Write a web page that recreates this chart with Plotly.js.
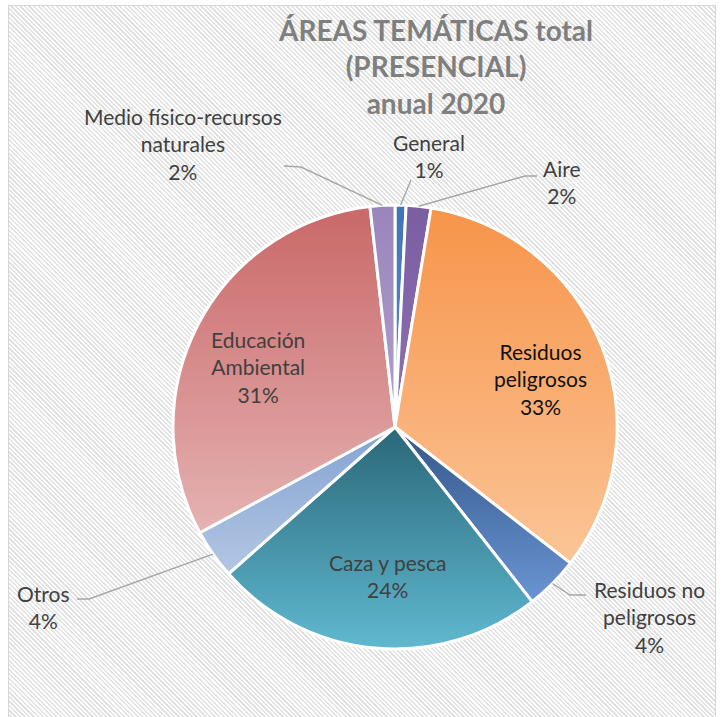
<!DOCTYPE html>
<html>
<head>
<meta charset="utf-8">
<script src="https://cdn.plot.ly/plotly-3.0.1.min.js"></script>
<style>
  html, body { margin: 0; padding: 0; width: 723px; height: 717px; overflow: hidden; background: #ffffff; }
  #frame {
    position: absolute; left: 8px; top: 5px; width: 706px; height: 730px;
    border: 1.5px solid #d6d6d6;
    background: repeating-linear-gradient(45deg, #ffffff 0px, #ffffff 1.6px, #e2e2e2 1.6px, #e2e2e2 3.2px);
  }
  #chart { position: absolute; left: 0; top: 0; width: 723px; height: 717px; }
</style>
</head>
<body>
<div id="frame"></div>
<div id="chart"></div>
<script>
// ---- data ----
const categories = ['General', 'Aire', 'Residuos peligrosos', 'Residuos no peligrosos',
                    'Caza y pesca', 'Otros', 'Educación Ambiental', 'Medio físico-recursos naturales'];
const labelLines = ['General', 'Aire', 'Residuos<br>peligrosos', 'Residuos no<br>peligrosos',
                    'Caza y pesca', 'Otros', 'Educación<br>Ambiental', 'Medio físico-recursos<br>naturales'];
const values = [0.8, 1.8, 32.9, 3.9, 24.1, 3.6, 31.1, 1.8];
const titleText = 'ÁREAS TEMÁTICAS total<br>(PRESENCIAL)<br>anual 2020';

// ---- styles / layout positions ----
const W = 723, H = 717;
const CX = 395, CY = 427, R = 222;
const FONT = 'Lato, "Open Sans", sans-serif';
const midColors = ['#4a7ebf', '#8064a6', '#f9ac70', '#4e78b0', '#4490a8', '#99b3da', '#d78b8b', '#a492c3'];
const gradTop =   ['#3f74b8', '#7b5da2', '#f7944a', '#34578a', '#2a6779', '#84a2d2', '#c96868', '#9a85bb'];
const gradBot =   ['#5b8fd0', '#8e72b2', '#fbc597', '#6a95d3', '#60b9d0', '#b3c7e3', '#e6b2b2', '#b0a0cc'];
const textColors = ['#404040', '#404040', '#111111', '#404040', '#404040', '#404040', '#404040', '#404040'];
// label block centres (px)
const labelPos = [[429, 156], [562, 182], [540, 379], [649, 617], [387, 576], [43, 607], [258, 367], [183, 144]];
// leader line waypoints (px) after the slice-edge anchor
const leaders = {0: [[411, 180]], 1: [[525, 176], [537, 176]], 3: [[570, 595], [586, 595]],
                 5: [[89, 599], [77, 599]], 7: [[301, 167], [284, 166]]};

const px = x => x / W;
const py = y => 1 - y / H;
const total = values.reduce((a, b) => a + b, 0);

// annotations from data
const annotations = categories.map((c, i) => ({
  x: px(labelPos[i][0]), y: py(labelPos[i][1]), xref: 'paper', yref: 'paper',
  xanchor: 'center', yanchor: 'middle', align: 'center', showarrow: false,
  text: labelLines[i] + '<br>' + Math.round(values[i] / total * 100) + '%',
  font: {family: FONT, size: 21, color: textColors[i]}
}));

// leader lines: start at slice edge computed from the data
let cum = 0;
const mids = values.map(v => { const m = (cum + v / 2) / total * 2 * Math.PI; cum += v; return m; });
const shapes = Object.keys(leaders).map(k => {
  const i = +k;
  const ex = CX + R * Math.sin(mids[i]);
  const ey = CY - R * Math.cos(mids[i]);
  const pts = [[ex, ey]].concat(leaders[k]);
  const path = pts.map((p, j) => (j ? 'L' : 'M') + px(p[0]).toFixed(5) + ',' + py(p[1]).toFixed(5)).join(' ');
  return {type: 'path', xref: 'paper', yref: 'paper', path: path,
          line: {color: '#a6a6a6', width: 1.4}};
});

const trace = {
  type: 'pie',
  labels: categories,
  values: values,
  sort: false,
  direction: 'clockwise',
  rotation: 0,
  textinfo: 'none',
  hoverinfo: 'label+percent',
  showlegend: false,
  marker: {colors: midColors, line: {color: '#ffffff', width: 3}},
  domain: {x: [px(CX - R), px(CX + R)], y: [py(CY + R), py(CY - R)]}
};

const layout = {
  width: W, height: H,
  margin: {l: 0, r: 0, t: 0, b: 0},
  paper_bgcolor: 'rgba(0,0,0,0)',
  plot_bgcolor: 'rgba(0,0,0,0)',
  title: {text: titleText, x: px(436), xanchor: 'center', xref: 'container',
          y: py(41), yanchor: 'top', yref: 'container',
          font: {family: FONT, size: 28, color: '#7f7f7f', weight: 'bold'}},
  annotations: annotations,
  shapes: shapes,
  showlegend: false
};

Plotly.newPlot('chart', [trace], layout, {displayModeBar: false, staticPlot: true}).then(gd => {
  const svg = gd.querySelector('svg.main-svg');
  const ns = 'http://www.w3.org/2000/svg';
  let defs = svg.querySelector('defs');
  if (!defs) { defs = document.createElementNS(ns, 'defs'); svg.insertBefore(defs, svg.firstChild); }
  values.forEach((v, i) => {
    const g = document.createElementNS(ns, 'linearGradient');
    g.setAttribute('id', 'sliceGrad' + i);
    g.setAttribute('x1', '0'); g.setAttribute('y1', '0');
    g.setAttribute('x2', '0'); g.setAttribute('y2', '1');
    [[0, gradTop[i]], [1, gradBot[i]]].forEach(s => {
      const st = document.createElementNS(ns, 'stop');
      st.setAttribute('offset', s[0]);
      st.setAttribute('stop-color', s[1]);
      g.appendChild(st);
    });
    defs.appendChild(g);
  });
  gd.querySelectorAll('g.slice').forEach((sl, i) => {
    const p = sl.querySelector('path.surface');
    if (p) p.style.fill = 'url(#sliceGrad' + i + ')';
  });
});
</script>
</body>
</html>
